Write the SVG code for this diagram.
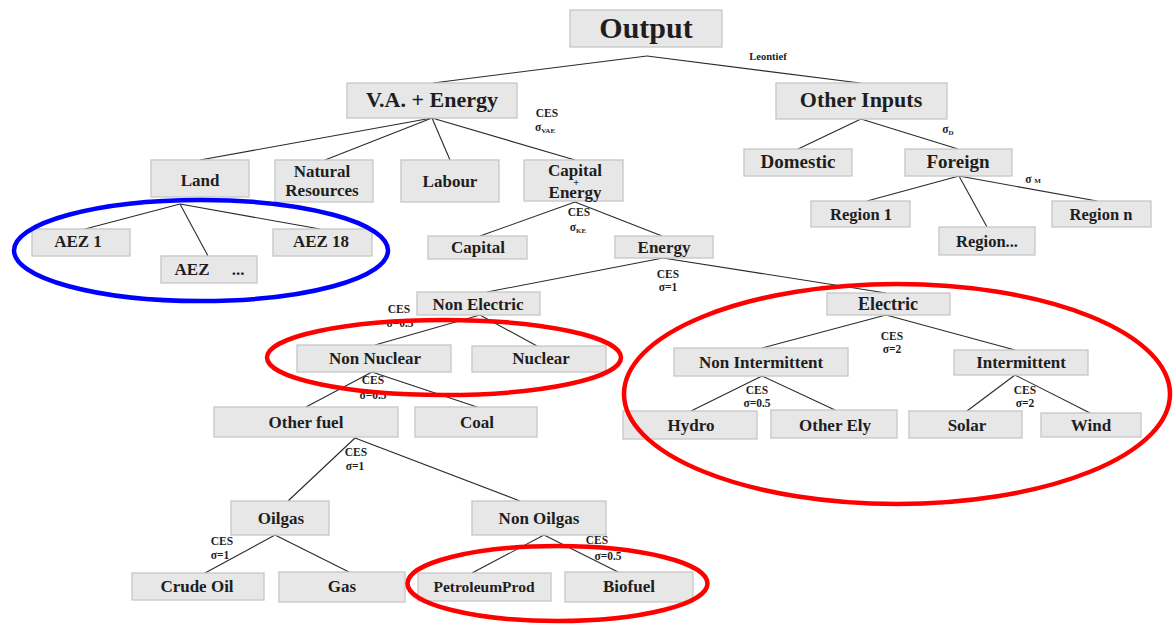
<svg xmlns="http://www.w3.org/2000/svg" width="1173" height="626" viewBox="0 0 1173 626">
<style>
.box{fill:#e7e7e7;stroke:#c6c6c6;stroke-width:1.3}
text{font-family:"Liberation Serif",serif;font-weight:bold;fill:#1e1e1e;text-anchor:middle}
.t{font-size:17px}
.big{font-size:22px}
.c{font-size:11.5px}
.sub{font-size:7px}
#connectors line{stroke:#2a2a2a;stroke-width:1.1}
.ring{fill:none;stroke-width:4.5}
</style>
<rect width="1173" height="626" fill="#ffffff"/>
<g id="connectors">
<line x1="647" y1="56" x2="433" y2="83"/>
<line x1="647" y1="56" x2="860" y2="83"/>
<line x1="432" y1="118" x2="200" y2="160"/>
<line x1="432" y1="118" x2="325" y2="160"/>
<line x1="432" y1="118" x2="450" y2="160"/>
<line x1="432" y1="118" x2="575" y2="160"/>
<line x1="861" y1="119" x2="798" y2="149"/>
<line x1="861" y1="119" x2="958" y2="149"/>
<line x1="959" y1="176" x2="867" y2="201"/>
<line x1="959" y1="176" x2="987" y2="227"/>
<line x1="959" y1="176" x2="1097" y2="201"/>
<line x1="180" y1="204" x2="85" y2="229"/>
<line x1="180" y1="204" x2="208" y2="256"/>
<line x1="180" y1="204" x2="320" y2="229"/>
<line x1="575" y1="202" x2="480" y2="236"/>
<line x1="575" y1="202" x2="662" y2="236"/>
<line x1="663" y1="258" x2="487" y2="292"/>
<line x1="663" y1="258" x2="886" y2="293"/>
<line x1="480" y1="315" x2="375" y2="345"/>
<line x1="480" y1="315" x2="537" y2="346"/>
<line x1="372" y1="372" x2="306" y2="407"/>
<line x1="372" y1="372" x2="477" y2="407"/>
<line x1="355" y1="438" x2="288" y2="501"/>
<line x1="355" y1="438" x2="520" y2="501"/>
<line x1="275" y1="535" x2="205" y2="573"/>
<line x1="275" y1="535" x2="349" y2="572"/>
<line x1="544" y1="535" x2="472" y2="573"/>
<line x1="544" y1="535" x2="618" y2="572"/>
<line x1="886" y1="315" x2="762" y2="348"/>
<line x1="886" y1="315" x2="1015" y2="350"/>
<line x1="762" y1="376" x2="691" y2="411"/>
<line x1="762" y1="376" x2="835" y2="410"/>
<line x1="1015" y1="375" x2="967" y2="411"/>
<line x1="1015" y1="375" x2="1090" y2="413"/>
</g>
<g id="elasticities">
<text class="c" x="768" y="60" style="font-size:10.5px">Leontief</text>
<text class="c" x="547" y="117">CES</text>
<text class="c" x="545" y="131">σ<tspan class="sub" dy="2">VAE</tspan></text>
<text class="c" x="948" y="133">σ<tspan class="sub" dy="2">D</tspan></text>
<text class="c" x="1033" y="183">σ <tspan class="sub">M</tspan></text>
<text class="c" x="579" y="216">CES</text>
<text class="c" x="578" y="231">σ<tspan class="sub" dy="2">KE</tspan></text>
<text class="c" x="668" y="278">CES</text>
<text class="c" x="668" y="291">σ=1</text>
<text class="c" x="399" y="313">CES</text>
<text class="c" x="400" y="327">σ=0.5</text>
<text class="c" x="373" y="384">CES</text>
<text class="c" x="373" y="399">σ=0.5</text>
<text class="c" x="892" y="340">CES</text>
<text class="c" x="892" y="353">σ=2</text>
<text class="c" x="757" y="394">CES</text>
<text class="c" x="757" y="407">σ=0.5</text>
<text class="c" x="1025" y="394">CES</text>
<text class="c" x="1025" y="407">σ=2</text>
<text class="c" x="356" y="456">CES</text>
<text class="c" x="355" y="470">σ=1</text>
<text class="c" x="222" y="545">CES</text>
<text class="c" x="220" y="559">σ=1</text>
<text class="c" x="597" y="544">CES</text>
<text class="c" x="608" y="560">σ=0.5</text>
</g>
<g id="output"><rect class="box" x="570" y="10" width="152" height="37"/><text x="646" y="38" style="font-size:30px">Output</text></g>
<g id="va-energy"><rect class="box" x="347" y="83" width="170" height="35"/><text class="big" x="432" y="107">V.A. + Energy</text></g>
<g id="other-inputs"><rect class="box" x="776" y="83" width="171" height="36"/><text class="big" x="861" y="107">Other Inputs</text></g>
<g id="domestic"><rect class="box" x="744" y="149" width="108" height="27"/><text x="798" y="168" style="font-size:19px">Domestic</text></g>
<g id="foreign"><rect class="box" x="905" y="149" width="107" height="27"/><text x="958" y="168" style="font-size:19px">Foreign</text></g>
<g id="region1"><rect class="box" x="811" y="201" width="99" height="26"/><text x="861" y="220" style="font-size:16.5px">Region 1</text></g>
<g id="region-dots"><rect class="box" x="939" y="227" width="96" height="28"/><text x="987" y="247" style="font-size:16.5px">Region...</text></g>
<g id="region-n"><rect class="box" x="1052" y="201" width="99" height="26"/><text x="1101" y="220" style="font-size:16.5px">Region n</text></g>
<g id="land"><rect class="box" x="151" y="160" width="98" height="37"/><text class="t" x="200" y="186">Land</text></g>
<g id="natural-resources"><rect class="box" x="275" y="160" width="98" height="42"/><text class="t" x="322" y="177">Natural</text><text class="t" x="322" y="196">Resources</text></g>
<g id="labour"><rect class="box" x="401" y="160" width="98" height="42"/><text class="t" x="450" y="187">Labour</text></g>
<g id="capital-energy"><rect class="box" x="524" y="160" width="99" height="41"/><text class="t" x="575" y="176">Capital</text><text x="576" y="186" style="font-size:10px">+</text><text class="t" x="575" y="198">Energy</text></g>
<g id="aez1"><rect class="box" x="32" y="229" width="98" height="27"/><text class="t" x="78" y="247">AEZ  1</text></g>
<g id="aez18"><rect class="box" x="273" y="229" width="99" height="27"/><text class="t" x="321" y="247">AEZ 18</text></g>
<g id="aez-dots"><rect class="box" x="161" y="256" width="96" height="27"/><text class="t" x="192" y="275">AEZ</text><text class="t" x="238" y="275">...</text></g>
<g id="capital"><rect class="box" x="428" y="236" width="99" height="23"/><text class="t" x="478" y="253">Capital</text></g>
<g id="energy"><rect class="box" x="615" y="236" width="98" height="22"/><text class="t" x="664" y="253">Energy</text></g>
<g id="non-electric"><rect class="box" x="417" y="292" width="123" height="23"/><text class="t" x="478" y="310">Non Electric</text></g>
<g id="electric"><rect class="box" x="827" y="293" width="123" height="22"/><text x="888" y="310" style="font-size:18px">Electric</text></g>
<g id="non-nuclear"><rect class="box" x="297" y="345" width="154" height="27"/><text class="t" x="375" y="364">Non Nuclear</text></g>
<g id="nuclear"><rect class="box" x="472" y="346" width="134" height="26"/><text class="t" x="541" y="364">Nuclear</text></g>
<g id="other-fuel"><rect class="box" x="214" y="407" width="184" height="30"/><text class="t" x="306" y="428">Other fuel</text></g>
<g id="coal"><rect class="box" x="415" y="407" width="122" height="30"/><text class="t" x="477" y="428">Coal</text></g>
<g id="non-intermittent"><rect class="box" x="674" y="348" width="174" height="28"/><text class="t" x="761" y="368">Non Intermittent</text></g>
<g id="intermittent"><rect class="box" x="954" y="350" width="134" height="25"/><text class="t" x="1021" y="368">Intermittent</text></g>
<g id="hydro"><rect class="box" x="623" y="411" width="134" height="28"/><text class="t" x="691" y="431">Hydro</text></g>
<g id="other-ely"><rect class="box" x="771" y="410" width="126" height="28"/><text class="t" x="835" y="431">Other Ely</text></g>
<g id="solar"><rect class="box" x="909" y="411" width="113" height="27"/><text class="t" x="967" y="431">Solar</text></g>
<g id="wind"><rect class="box" x="1041" y="413" width="100" height="24"/><text class="t" x="1091" y="431">Wind</text></g>
<g id="oilgas"><rect class="box" x="231" y="501" width="98" height="34"/><text class="t" x="281" y="524">Oilgas</text></g>
<g id="non-oilgas"><rect class="box" x="472" y="501" width="134" height="34"/><text class="t" x="539" y="524">Non Oilgas</text></g>
<g id="crude-oil"><rect class="box" x="132" y="573" width="132" height="27"/><text class="t" x="197" y="592">Crude Oil</text></g>
<g id="gas"><rect class="box" x="279" y="572" width="126" height="30"/><text class="t" x="342" y="592">Gas</text></g>
<g id="petroleum-prod"><rect class="box" x="418" y="573" width="133" height="28"/><text x="484" y="592" style="font-size:15.5px">PetroleumProd</text></g>
<g id="biofuel"><rect class="box" x="565" y="572" width="128" height="30"/><text class="t" x="629" y="592">Biofuel</text></g>
<g id="highlights">
<ellipse class="ring" cx="201" cy="250.5" rx="187" ry="50.5" stroke="#0000ff"/>
<ellipse class="ring" cx="444" cy="357.5" rx="177" ry="37.5" stroke="#ff0000"/>
<ellipse class="ring" cx="897" cy="394" rx="273" ry="110" stroke="#ff0000"/>
<ellipse class="ring" cx="557.5" cy="583.5" rx="150" ry="37.5" stroke="#ff0000"/>
</g>
</svg>
